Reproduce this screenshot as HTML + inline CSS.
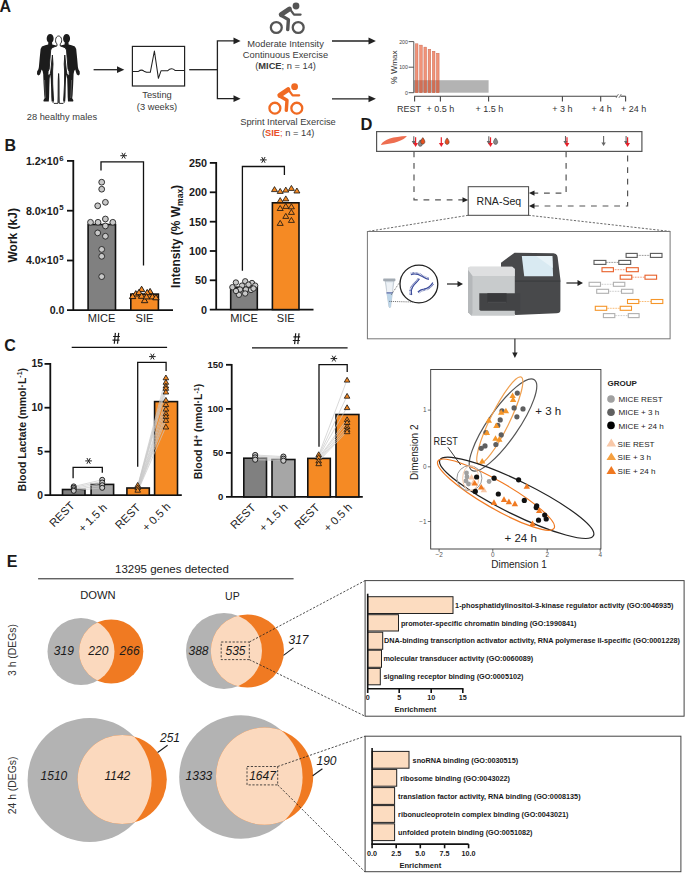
<!DOCTYPE html>
<html><head><meta charset="utf-8">
<style>
html,body{margin:0;padding:0;background:#fff;}
body{width:685px;height:873px;overflow:hidden;}
svg{display:block;font-family:"Liberation Sans",sans-serif;}
.pl{font-weight:bold;font-size:16px;fill:#1a1a1a;}
.ta{font-size:9.3px;fill:#3a3a3a;}
.bt{font-weight:bold;fill:#1a1a1a;}
</style></head><body>
<svg width="685" height="873" viewBox="0 0 685 873">
<defs>
<marker id="ah" viewBox="0 0 10 10" refX="9" refY="5" markerWidth="6" markerHeight="6" orient="auto" markerUnits="userSpaceOnUse"><path d="M0,0 L10,5 L0,10 z" fill="#222"/></marker>
<g id="ast"><path d="M-3.3,0 L3.3,0 M-1.7,-2.9 L1.7,2.9 M1.7,-2.9 L-1.7,2.9" stroke="#222" stroke-width="1.0" fill="none"/></g>
<g id="hash"><path d="M-1.9,5.4 L-0.8,-5.5 M1.3,5.4 L2.5,-5.5 M-3.1,-1.9 L3.7,-1.9 M-3.7,1.8 L3.3,1.8" stroke="#1a1a1a" stroke-width="1.2" fill="none"/></g>
<path id="man" d="M0,38 L1.2,45 L1.8,60 L2.3,65.8 L6.6,66.6 L6.8,67.6 L2,67.8 L0.6,67 L0,58 L-0.6,67 L-2,67.8 L-6.8,67.6 L-6.6,66.6 L-2.3,65.8 L-1.8,60 L-1.2,45 L0,38 Z"/>
</defs>

<!-- ============ PANEL A ============ -->
<text class="pl" x="-0.5" y="11.6">A</text>
<g id="people">
  <g fill="#1c1c1c">
    <path transform="translate(50.2,34)" d="M1.9,8.2 L2.0,10.4 L5.0,11.2 L8.3,12.4 L9.6,15.0 L10.5,24.0 L11.3,33.0 L11.8,35.3 L13.1,37.4 L13.2,40.3 L11.8,41.6 L10.2,40.6 L9.4,38.2 L8.6,35.5 L7.6,37.0 L7.0,40.0 L6.6,50.0 L6.0,61.0 L5.6,64.3 L6.8,66.3 L6.5,67.6 L1.4,67.6 L1.1,63.0 L0.9,54.0 L0.6,45.0 L0.0,40.5 L-0.6,45.0 L-0.9,54.0 L-1.1,63.0 L-1.4,67.6 L-6.5,67.6 L-6.8,66.3 L-5.6,64.3 L-6.0,61.0 L-6.6,50.0 L-7.0,40.0 L-7.6,37.0 L-8.6,35.5 L-9.4,38.2 L-10.2,40.6 L-11.8,41.6 L-13.2,40.3 L-13.1,37.4 L-11.8,35.3 L-11.3,33.0 L-10.5,24.0 L-9.6,15.0 L-8.3,12.4 L-5.0,11.2 L-2.0,10.4 L-1.9,8.2 C-4.5,6.7 -3.9,0.0 0,0 C3.9,0.0 4.5,6.7 1.9,8.2 Z"/>
    <path transform="translate(66.6,34)" d="M1.9,8.2 L2.0,10.4 L5.0,11.2 L8.3,12.4 L9.6,15.0 L10.5,24.0 L11.3,33.0 L11.8,35.3 L13.1,37.4 L13.2,40.3 L11.8,41.6 L10.2,40.6 L9.4,38.2 L8.6,35.5 L7.6,37.0 L7.0,40.0 L6.6,50.0 L6.0,61.0 L5.6,64.3 L6.8,66.3 L6.5,67.6 L1.4,67.6 L1.1,63.0 L0.9,54.0 L0.6,45.0 L0.0,40.5 L-0.6,45.0 L-0.9,54.0 L-1.1,63.0 L-1.4,67.6 L-6.5,67.6 L-6.8,66.3 L-5.6,64.3 L-6.0,61.0 L-6.6,50.0 L-7.0,40.0 L-7.6,37.0 L-8.6,35.5 L-9.4,38.2 L-10.2,40.6 L-11.8,41.6 L-13.2,40.3 L-13.1,37.4 L-11.8,35.3 L-11.3,33.0 L-10.5,24.0 L-9.6,15.0 L-8.3,12.4 L-5.0,11.2 L-2.0,10.4 L-1.9,8.2 C-4.5,6.7 -3.9,0.0 0,0 C3.9,0.0 4.5,6.7 1.9,8.2 Z"/>
  </g>
  <path transform="translate(58.6,36)" fill="#fff" stroke="#1c1c1c" stroke-width="0.9" stroke-linejoin="round" d="M1.6,7.9 L1.7,10.0 L4.5,10.9 L6.6,11.8 L7.9,14.0 L8.7,24.0 L9.4,33.0 L10.5,35.5 L10.7,38.5 L9.4,39.6 L8.3,37.6 L7.7,34.0 L6.7,24.0 L6.2,19.0 L5.6,28.0 L6.0,35.0 L5.9,48.0 L5.3,60.0 L5.0,64.0 L5.6,66.4 L4.6,67.4 L0.7,67.4 L0.5,60.0 L0.4,45.0 L0.0,37.5 L-0.4,45.0 L-0.5,60.0 L-0.7,67.4 L-4.6,67.4 L-5.6,66.4 L-5.0,64.0 L-5.3,60.0 L-5.9,48.0 L-6.0,35.0 L-5.6,28.0 L-6.2,19.0 L-6.7,24.0 L-7.7,34.0 L-8.3,37.6 L-9.4,39.6 L-10.7,38.5 L-10.5,35.5 L-9.4,33.0 L-8.7,24.0 L-7.9,14.0 L-6.6,11.8 L-4.5,10.9 L-1.7,10.0 L-1.6,7.9 C-4.0,6.4 -3.4,0.0 0,0 C3.4,0.0 4.0,6.4 1.6,7.9 Z"/>
  <path d="M58.6,74 L58.6,103" stroke="#1c1c1c" stroke-width="0.7"/>
  <g stroke="#ddd" stroke-width="0.5" opacity="0.6"><path d="M44.6,80 L45.4,98 M71.6,80 L70.8,98"/></g>
</g>
<text class="ta" x="61.9" y="120" text-anchor="middle">28 healthy males</text>
<!-- arrow to testing -->
<line x1="93.6" y1="69.7" x2="118" y2="69.7" stroke="#222" stroke-width="1.3"/>
<path d="M117,66.3 L124.3,69.7 L117,73.1 Z" fill="#222"/>
<!-- ECG box -->
<rect x="132.4" y="46.4" width="52.2" height="39.6" fill="#fff" stroke="#222" stroke-width="1.2"/>
<path d="M132.4,71.4 L138.5,71.4 Q141.5,69 144,71.2 L146.5,72.3 L150.3,72.3 L154.4,51 L158.4,78.3 L161,70.8 L167.5,70.8 Q171.5,67 175,70.4 L184.6,70.4" fill="none" stroke="#222" stroke-width="1.05" stroke-linejoin="round"/>
<text class="ta" x="157" y="98.4" text-anchor="middle">Testing</text>
<text class="ta" x="157" y="109.8" text-anchor="middle">(3 weeks)</text>
<!-- branch lines -->
<line x1="189.2" y1="69.7" x2="217.4" y2="69.7" stroke="#222" stroke-width="1.3"/>
<polyline points="234,40.9 217.4,40.9 217.4,98.7 234,98.7" fill="none" stroke="#222" stroke-width="1.3"/>
<path d="M233.5,37.5 L240.6,40.9 L233.5,44.3 Z" fill="#222"/>
<path d="M233.5,95.3 L240.6,98.7 L233.5,102.1 Z" fill="#222"/>
<!-- bikes -->
<g id="bike1" fill="none" stroke="#555" stroke-linecap="round" stroke-linejoin="round">
  <circle cx="276.3" cy="27.5" r="5.45" stroke-width="2.3"/>
  <circle cx="298.2" cy="27.5" r="5.45" stroke-width="2.3"/>
  <circle cx="296" cy="6" r="3.4" fill="#555" stroke="none"/>
  <line x1="281.2" y1="14.6" x2="289.4" y2="9" stroke-width="4.9"/>
  <polyline points="281.5,15.6 288.4,19.6 287.7,29.6" stroke-width="3.4"/>
  <polyline points="290.3,9.6 294,14.6 300.6,14.6" stroke-width="2.2"/>
</g>
<g transform="translate(-1.4,80.7)" fill="none" stroke="#f06a22" stroke-linecap="round" stroke-linejoin="round">
  <circle cx="276.3" cy="27.5" r="5.45" stroke-width="2.3"/>
  <circle cx="298.2" cy="27.5" r="5.45" stroke-width="2.3"/>
  <circle cx="296" cy="6" r="3.4" fill="#f06a22" stroke="none"/>
  <line x1="281.2" y1="14.6" x2="289.4" y2="9" stroke-width="4.9"/>
  <polyline points="281.5,15.6 288.4,19.6 287.7,29.6" stroke-width="3.4"/>
  <polyline points="290.3,9.6 294,14.6 300.6,14.6" stroke-width="2.2"/>
</g>
<text class="ta" x="285.6" y="46.6" text-anchor="middle">Moderate Intensity</text>
<text class="ta" x="285.5" y="57.8" text-anchor="middle">Continuous Exercise</text>
<text class="ta" x="285.6" y="69" text-anchor="middle">(<tspan font-weight="bold">MICE</tspan>; n = 14)</text>
<text class="ta" x="288" y="125" text-anchor="middle">Sprint Interval Exercise</text>
<text class="ta" x="288.2" y="135.6" text-anchor="middle">(<tspan font-weight="bold" fill="#e8502a">SIE</tspan><tspan fill="#e8502a">;</tspan> n = 14)</text>
<!-- arrows to chart -->
<line x1="332" y1="41" x2="369" y2="41" stroke="#222" stroke-width="1.3"/>
<path d="M368.5,37.6 L375.9,41 L368.5,44.4 Z" fill="#222"/>
<line x1="332" y1="98.8" x2="369" y2="98.8" stroke="#222" stroke-width="1.3"/>
<path d="M368.5,95.4 L375.9,98.8 L368.5,102.2 Z" fill="#222"/>
<!-- mini chart -->
<g id="minichart">
  <rect x="413.8" y="80.2" width="74.8" height="12.5" fill="#b3b3b3"/>
  <g fill="#f08a6c" stroke="#c4614a" stroke-width="0.4" fill-opacity="0.92">
    <rect x="415.3" y="43.8" width="2.7" height="48.9"/>
    <rect x="419.6" y="45.1" width="2.7" height="47.6"/>
    <rect x="423.9" y="47.1" width="2.7" height="45.6"/>
    <rect x="428.1" y="49.2" width="2.7" height="43.5"/>
    <rect x="432.3" y="51.2" width="2.7" height="41.5"/>
    <rect x="436.4" y="53.2" width="2.7" height="39.5"/>
  </g>
  <g fill="#c8664c" opacity="0.75">
    <rect x="415.3" y="80.2" width="2.7" height="12.5"/>
    <rect x="419.6" y="80.2" width="2.7" height="12.5"/>
    <rect x="423.9" y="80.2" width="2.7" height="12.5"/>
    <rect x="428.1" y="80.2" width="2.7" height="12.5"/>
    <rect x="432.3" y="80.2" width="2.7" height="12.5"/>
    <rect x="436.4" y="80.2" width="2.7" height="12.5"/>
  </g>
  <polyline points="408.6,41.6 413.8,41.6 413.8,92.7 408.6,92.7" fill="none" stroke="#444" stroke-width="0.9"/>
  <line x1="408.6" y1="67.2" x2="413.8" y2="67.2" stroke="#444" stroke-width="0.9"/>
  <g font-size="5.2" fill="#444" text-anchor="end"><text x="407.8" y="43.5">200</text><text x="407.8" y="69.1">100</text><text x="407.8" y="94.6">0</text></g>
  <text transform="translate(397.2,67.4) rotate(-90)" font-size="8.8" fill="#333" text-anchor="middle">% W<tspan font-size="8.1">max</tspan></text>
  <line x1="414.2" y1="96.2" x2="617" y2="96.2" stroke="#444" stroke-width="1.1"/>
  <line x1="620.5" y1="96.2" x2="625.6" y2="96.2" stroke="#444" stroke-width="1.1"/>
  <path d="M616,98 L618.5,94 M618.8,98 L621.3,94" stroke="#555" stroke-width="0.7"/>
  <g stroke="#444" stroke-width="1.1"><line x1="414.6" y1="96.2" x2="414.6" y2="101.6"/><line x1="440.4" y1="96.2" x2="440.4" y2="101.6"/><line x1="488.6" y1="96.2" x2="488.6" y2="101.6"/><line x1="562.4" y1="96.2" x2="562.4" y2="101.6"/><line x1="600.7" y1="96.2" x2="600.7" y2="101.6"/><line x1="625.6" y1="96.2" x2="625.6" y2="101.6"/></g>
  <g font-size="9" fill="#333"><text x="397" y="111.5">REST</text><text x="426.5" y="111.5">+ 0.5 h</text><text x="475.5" y="111.5">+ 1.5 h</text><text x="552.3" y="111.5">+ 3 h</text><text x="591.5" y="111.5">+ 4 h</text><text x="621" y="111.5">+ 24 h</text></g>
</g>

<!-- ============ PANEL B ============ -->
<text class="pl" x="4.5" y="150.6">B</text>
<g id="work">
  <g stroke="#111" stroke-width="1.8" fill="none">
    <line x1="73.3" y1="160" x2="73.3" y2="310.3"/>
    <line x1="67" y1="160.9" x2="73.3" y2="160.9"/>
    <line x1="67" y1="210.7" x2="73.3" y2="210.7"/>
    <line x1="67" y1="260.5" x2="73.3" y2="260.5"/>
    <line x1="67" y1="310.2" x2="173" y2="310.2"/>
  </g>
  <g class="bt" font-size="10.6" text-anchor="end">
    <text x="58.6" y="164.8">1.2×10</text><text x="58.6" y="214.6">8.0×10</text><text x="58.6" y="264.4">4.0×10</text><text x="64.4" y="314.2">0.0</text>
  </g>
  <g class="bt" font-size="7.8"><text x="59.3" y="160.6">6</text><text x="59.3" y="210.4">5</text><text x="59.3" y="260.2">5</text></g>
  <text class="bt" font-size="12" transform="translate(16.8,235.3) rotate(-90)" text-anchor="middle">Work (kJ)</text>
  <rect x="88.1" y="224.5" width="27.4" height="85.7" fill="#808080" stroke="#111" stroke-width="1.6"/>
  <rect x="130.8" y="294.1" width="27.6" height="16.1" fill="#f58a24" stroke="#111" stroke-width="1.6"/>
  <polyline points="101,170.4 101,161.8 143.5,161.8 143.5,265.5" fill="none" stroke="#111" stroke-width="1.3"/>
  <use href="#ast" x="123.6" y="155.7"/>
  <g fill="#c8c8c8" stroke="#222" stroke-width="0.9">
    <circle cx="101.7" cy="182.2" r="2.9"/><circle cx="101.7" cy="189.2" r="2.9"/><circle cx="105.4" cy="202.3" r="2.9"/><circle cx="97.7" cy="205.8" r="2.9"/><circle cx="105.4" cy="219" r="2.9"/><circle cx="90.5" cy="222.3" r="2.9"/><circle cx="98" cy="222.3" r="2.9"/><circle cx="112.8" cy="222.3" r="2.9"/><circle cx="105.4" cy="226" r="2.9"/><circle cx="97.7" cy="232.9" r="2.9"/><circle cx="105.4" cy="236.2" r="2.9"/><circle cx="101.7" cy="249.4" r="2.9"/><circle cx="101.7" cy="256.3" r="2.9"/><circle cx="101.7" cy="276.6" r="2.9"/>
  </g>
  <g fill="#f58a24" stroke="#111" stroke-width="0.9" stroke-linejoin="round">
    <path d="M138.4,291.6 l3.2,-5.4 l3.2,5.4 z"/><path d="M146.9,293.8 l3.2,-5.4 l3.2,5.4 z"/><path d="M144.0,294.8 l3.2,-5.4 l3.2,5.4 z"/><path d="M132.6,296.0 l3.2,-5.4 l3.2,5.4 z"/><path d="M135.8,294.7 l3.2,-5.4 l3.2,5.4 z"/><path d="M138.4,298.3 l3.2,-5.4 l3.2,5.4 z"/><path d="M149.2,298.9 l3.2,-5.4 l3.2,5.4 z"/><path d="M129.4,298.6 l3.2,-5.4 l3.2,5.4 z"/><path d="M152.7,299.8 l3.2,-5.4 l3.2,5.4 z"/><path d="M141.4,302.7 l3.2,-5.4 l3.2,5.4 z"/><path d="M143.3,298.9 l3.2,-5.4 l3.2,5.4 z"/>
  </g>
  <g font-size="11.1" fill="#222" text-anchor="middle"><text x="101.6" y="322.1">MICE</text><text x="144.5" y="322">SIE</text></g>
</g>
<g id="intensity">
  <g stroke="#111" stroke-width="1.8" fill="none">
    <line x1="216.2" y1="162" x2="216.2" y2="309.6"/>
    <line x1="209.8" y1="162.9" x2="216.2" y2="162.9"/>
    <line x1="209.8" y1="192.3" x2="216.2" y2="192.3"/>
    <line x1="209.8" y1="221.7" x2="216.2" y2="221.7"/>
    <line x1="209.8" y1="251" x2="216.2" y2="251"/>
    <line x1="209.8" y1="280.3" x2="216.2" y2="280.3"/>
    <line x1="209.8" y1="309.6" x2="313.5" y2="309.6"/>
  </g>
  <g class="bt" font-size="10.8" text-anchor="end">
    <text x="207" y="166.8">250</text><text x="207" y="196.2">200</text><text x="207" y="225.6">150</text><text x="207" y="254.9">100</text><text x="207" y="284.2">50</text><text x="207" y="313.5">0</text>
  </g>
  <text class="bt" font-size="12" transform="translate(179.6,236.4) rotate(-90)" text-anchor="middle">Intensity (% W<tspan font-size="8.5" dy="3">max</tspan><tspan dy="-3">)</tspan></text>
  <rect x="230.7" y="287.2" width="26.6" height="22.4" fill="#808080" stroke="#111" stroke-width="1.6"/>
  <rect x="272.4" y="202.8" width="26.6" height="106.8" fill="#f58a24" stroke="#111" stroke-width="1.6"/>
  <polyline points="242.4,270.8 242.4,166.5 284.4,166.5 284.4,175" fill="none" stroke="#111" stroke-width="1.3"/>
  <use href="#ast" x="263.4" y="159.9"/>
  <g fill="#c8c8c8" stroke="#222" stroke-width="0.9">
    <circle cx="235.9" cy="282.5" r="2.7"/><circle cx="245.2" cy="281.3" r="2.7"/><circle cx="252" cy="283" r="2.7"/><circle cx="255.2" cy="285.6" r="2.7"/><circle cx="232.4" cy="287.2" r="2.7"/><circle cx="242" cy="285.6" r="2.7"/><circle cx="248.5" cy="284.6" r="2.7"/><circle cx="240" cy="289.5" r="2.7"/><circle cx="245.9" cy="289.5" r="2.7"/><circle cx="251" cy="290" r="2.7"/><circle cx="238.9" cy="294.8" r="2.7"/><circle cx="245.2" cy="293.5" r="2.7"/><circle cx="236" cy="291" r="2.7"/><circle cx="253.5" cy="288.5" r="2.7"/>
  </g>
  <g fill="#f58a24" stroke="#111" stroke-width="0.8" stroke-linejoin="round">
    <path d="M271.5,191.6 l3,-5 l3,5 z"/><path d="M277.2,193.4 l3,-5 l3,5 z"/><path d="M282.8,192.1 l3,-5 l3,5 z"/><path d="M288.4,190.4 l3,-5 l3,5 z"/><path d="M293.9,193 l3,-5 l3,5 z"/><path d="M277.2,202.6 l3,-5 l3,5 z"/><path d="M282.8,200.9 l3,-5 l3,5 z"/><path d="M277.2,210.5 l3,-5 l3,5 z"/><path d="M282.8,208.4 l3,-5 l3,5 z"/><path d="M288.4,208.8 l3,-5 l3,5 z"/><path d="M288.4,214.4 l3,-5 l3,5 z"/><path d="M282.8,218.4 l3,-5 l3,5 z"/><path d="M288.4,222.4 l3,-5 l3,5 z"/><path d="M277.2,225.4 l3,-5 l3,5 z"/>
  </g>
  <g font-size="11.1" fill="#222" text-anchor="middle"><text x="244" y="321.9">MICE</text><text x="285.7" y="321.8">SIE</text></g>
</g>

<!-- ============ PANEL C ============ -->
<text class="pl" x="4.2" y="351.2">C</text>
<g id="lactate">
  <line x1="71.7" y1="347.4" x2="167.1" y2="347.4" stroke="#111" stroke-width="1.4"/>
  <use href="#hash" x="116.2" y="338.4"/>
  <g stroke="#111" stroke-width="1.8" fill="none">
    <line x1="50.3" y1="363" x2="50.3" y2="495.3"/>
    <line x1="44.5" y1="363.9" x2="50.3" y2="363.9"/>
    <line x1="44.5" y1="407.7" x2="50.3" y2="407.7"/>
    <line x1="44.5" y1="451.6" x2="50.3" y2="451.6"/>
    <line x1="44.5" y1="495.2" x2="181.8" y2="495.2"/>
  </g>
  <g class="bt" font-size="10.3" text-anchor="end"><text x="43" y="367.4">15</text><text x="43" y="411.2">10</text><text x="43" y="455.1">5</text><text x="43" y="498.7">0</text></g>
  <text class="bt" font-size="10.5" transform="translate(25.8,429.7) rotate(-90)" text-anchor="middle">Blood Lactate (mmol·L<tspan font-size="7" dy="-3.5">-1</tspan><tspan dy="3.5">)</tspan></text>
  <rect x="62.5" y="489.5" width="22.5" height="5.7" fill="#808080" stroke="#111" stroke-width="1.6"/>
  <rect x="91.1" y="484.4" width="22.5" height="10.8" fill="#a6a6a6" stroke="#111" stroke-width="1.6"/>
  <rect x="126.9" y="488" width="22.4" height="7.2" fill="#f58a24" stroke="#111" stroke-width="1.6"/>
  <rect x="154.6" y="401.6" width="22.9" height="93.6" fill="#f58a24" stroke="#111" stroke-width="1.6"/>
  <polyline points="137.7,466.8 137.7,362.3 166.1,362.3 166.1,370.9" fill="none" stroke="#111" stroke-width="1.3"/>
  <use href="#ast" x="152.4" y="356.6"/>
  <polyline points="73.1,478.2 73.1,467.4 102.3,467.4 102.3,472.7" fill="none" stroke="#111" stroke-width="1.3"/>
  <use href="#ast" x="88.6" y="460.9"/>
  <g stroke="#c8c8c8" stroke-width="0.7">
    <line x1="73.7" y1="486.5" x2="102.2" y2="479.8"/><line x1="73.7" y1="487.5" x2="102.2" y2="481.5"/><line x1="73.7" y1="488.5" x2="102.2" y2="483.5"/><line x1="73.7" y1="489.5" x2="102.2" y2="485.5"/><line x1="73.7" y1="490.5" x2="102.2" y2="487.8"/>
  </g>
  <g stroke="#c8c8c8" stroke-width="0.7">
    <line x1="137.7" y1="486" x2="165.9" y2="377.4"/><line x1="137.7" y1="486.5" x2="165.9" y2="381.9"/><line x1="137.7" y1="487" x2="165.9" y2="385.6"/><line x1="137.7" y1="487.5" x2="165.9" y2="387.9"/><line x1="137.7" y1="488" x2="165.9" y2="391.6"/><line x1="137.7" y1="488.5" x2="165.9" y2="399.8"/><line x1="137.7" y1="489" x2="165.9" y2="404.2"/><line x1="137.7" y1="489.5" x2="165.9" y2="408.7"/><line x1="137.7" y1="490" x2="165.9" y2="413.2"/><line x1="137.7" y1="490.5" x2="165.9" y2="416.2"/><line x1="137.7" y1="491" x2="165.9" y2="419.9"/><line x1="137.7" y1="491.5" x2="165.9" y2="426.6"/>
  </g>
  <g fill="#c8c8c8" stroke="#111" stroke-width="0.9">
    <circle cx="73.7" cy="486.4" r="2.5"/><circle cx="73.7" cy="487.8" r="2.5"/><circle cx="73.7" cy="489.4" r="2.5"/><circle cx="73.7" cy="490.8" r="2.5"/><circle cx="102.2" cy="479.8" r="2.5"/><circle cx="102.2" cy="482.5" r="2.5"/><circle cx="102.2" cy="485.2" r="2.5"/><circle cx="102.2" cy="487.8" r="2.5"/>
  </g>
  <g fill="#f58a24" stroke="#111" stroke-width="0.8" stroke-linejoin="round">
    <path d="M134.9,487.2 l2.8,-4.8 l2.8,4.8 z"/><path d="M134.9,489.7 l2.8,-4.8 l2.8,4.8 z"/><path d="M134.9,492.2 l2.8,-4.8 l2.8,4.8 z"/><path d="M163.1,379.8 l2.8,-4.8 l2.8,4.8 z"/><path d="M163.1,384.3 l2.8,-4.8 l2.8,4.8 z"/><path d="M163.1,388.0 l2.8,-4.8 l2.8,4.8 z"/><path d="M163.1,390.3 l2.8,-4.8 l2.8,4.8 z"/><path d="M163.1,394.0 l2.8,-4.8 l2.8,4.8 z"/><path d="M163.1,402.2 l2.8,-4.8 l2.8,4.8 z"/><path d="M163.1,406.6 l2.8,-4.8 l2.8,4.8 z"/><path d="M163.1,411.1 l2.8,-4.8 l2.8,4.8 z"/><path d="M163.1,415.6 l2.8,-4.8 l2.8,4.8 z"/><path d="M163.1,418.6 l2.8,-4.8 l2.8,4.8 z"/><path d="M163.1,422.3 l2.8,-4.8 l2.8,4.8 z"/><path d="M163.1,429.0 l2.8,-4.8 l2.8,4.8 z"/>
  </g>
  <g font-size="11.3" fill="#222" text-anchor="end">
    <text transform="translate(75.3,506.4) rotate(-45)">REST</text>
    <text transform="translate(107.6,508.3) rotate(-45)">+ 1.5 h</text>
    <text transform="translate(141.1,508.4) rotate(-45)">REST</text>
    <text transform="translate(171.3,507.4) rotate(-45)">+ 0.5 h</text>
  </g>
</g>
<g id="hplus">
  <line x1="252" y1="347.9" x2="347.6" y2="347.9" stroke="#111" stroke-width="1.4"/>
  <use href="#hash" x="296.5" y="338.7"/>
  <g stroke="#111" stroke-width="1.8" fill="none">
    <line x1="231.7" y1="364" x2="231.7" y2="496.9"/>
    <line x1="226" y1="364.8" x2="231.7" y2="364.8"/>
    <line x1="226" y1="408.9" x2="231.7" y2="408.9"/>
    <line x1="226" y1="452.9" x2="231.7" y2="452.9"/>
    <line x1="226" y1="496.9" x2="362.8" y2="496.9"/>
  </g>
  <g class="bt" font-size="9.5" text-anchor="end"><text x="223.4" y="368.2">150</text><text x="223.4" y="412.3">100</text><text x="223.4" y="456.3">50</text><text x="223.4" y="500.3">0</text></g>
  <text class="bt" font-size="10.5" transform="translate(202,431.5) rotate(-90)" text-anchor="middle">Blood H<tspan font-size="7" dy="-3.5">+</tspan><tspan dy="3.5"> (nmol·L</tspan><tspan font-size="7" dy="-3.5">-1</tspan><tspan dy="3.5">)</tspan></text>
  <rect x="243.8" y="458.2" width="22.7" height="38.7" fill="#808080" stroke="#111" stroke-width="1.6"/>
  <rect x="272" y="459.5" width="22.9" height="37.4" fill="#a6a6a6" stroke="#111" stroke-width="1.6"/>
  <rect x="307.8" y="458.4" width="22.5" height="38.5" fill="#f58a24" stroke="#111" stroke-width="1.6"/>
  <rect x="336" y="414.5" width="22.9" height="82.4" fill="#f58a24" stroke="#111" stroke-width="1.6"/>
  <polyline points="319,446.8 319,364.7 347.2,364.7 347.2,371.9" fill="none" stroke="#111" stroke-width="1.3"/>
  <use href="#ast" x="333.9" y="358.6"/>
  <g stroke="#c8c8c8" stroke-width="0.7">
    <line x1="255.2" y1="455" x2="283.4" y2="456.6"/><line x1="255.2" y1="456.2" x2="283.4" y2="457.6"/><line x1="255.2" y1="457.4" x2="283.4" y2="458.7"/><line x1="255.2" y1="458.6" x2="283.4" y2="459.7"/><line x1="255.2" y1="459.7" x2="283.4" y2="460.7"/>
    <line x1="318.7" y1="455.0" x2="347.1" y2="379.7"/><line x1="318.7" y1="455.9" x2="347.1" y2="395.8"/><line x1="318.7" y1="456.8" x2="347.1" y2="407.2"/><line x1="318.7" y1="457.7" x2="347.1" y2="419.2"/><line x1="318.7" y1="458.6" x2="347.1" y2="422.1"/><line x1="318.7" y1="459.5" x2="347.1" y2="426.1"/><line x1="318.7" y1="460.4" x2="347.1" y2="429"/><line x1="318.7" y1="461.3" x2="347.1" y2="431.3"/>
  </g>
  <g fill="#c8c8c8" stroke="#111" stroke-width="0.9">
    <circle cx="255.2" cy="455" r="2.6"/><circle cx="255.2" cy="457.4" r="2.6"/><circle cx="255.2" cy="459.7" r="2.6"/><circle cx="283.4" cy="456.6" r="2.6"/><circle cx="283.4" cy="458.7" r="2.6"/><circle cx="283.4" cy="460.7" r="2.6"/>
  </g>
  <g fill="#f58a24" stroke="#111" stroke-width="0.8" stroke-linejoin="round">
    <path d="M315.9,456.6 l2.8,-4.8 l2.8,4.8 z"/><path d="M315.9,459.4 l2.8,-4.8 l2.8,4.8 z"/><path d="M315.9,462.9 l2.8,-4.8 l2.8,4.8 z"/><path d="M315.9,465.7 l2.8,-4.8 l2.8,4.8 z"/><path d="M344.3,382.1 l2.8,-4.8 l2.8,4.8 z"/><path d="M344.3,398.2 l2.8,-4.8 l2.8,4.8 z"/><path d="M344.3,409.6 l2.8,-4.8 l2.8,4.8 z"/><path d="M344.3,421.6 l2.8,-4.8 l2.8,4.8 z"/><path d="M344.3,424.5 l2.8,-4.8 l2.8,4.8 z"/><path d="M344.3,428.5 l2.8,-4.8 l2.8,4.8 z"/><path d="M344.3,431.4 l2.8,-4.8 l2.8,4.8 z"/><path d="M344.3,433.7 l2.8,-4.8 l2.8,4.8 z"/>
  </g>
  <g font-size="11.3" fill="#222" text-anchor="end">
    <text transform="translate(256.3,508.4) rotate(-45)">REST</text>
    <text transform="translate(288.4,507.9) rotate(-45)">+ 1.5 h</text>
    <text transform="translate(320.3,508.4) rotate(-45)">REST</text>
    <text transform="translate(352.8,507.9) rotate(-45)">+ 0.5 h</text>
  </g>
</g>

<!-- ============ PANEL D ============ -->
<text class="pl" x="360.4" y="130.2" style="font-size:16.5px">D</text>
<g id="paneld">
  <rect x="376.6" y="131.6" width="265.3" height="19.8" fill="#fff" stroke="#555" stroke-width="1.2"/>
  <path d="M380.8,144.9 C384,139.3 393,136.8 406.9,136.1 C404,140.3 395,143.8 380.8,144.9 Z" fill="#ee6e50"/>
  <!-- arrows gray -->
  <g stroke="#666" stroke-width="1.1" fill="#666">
    <line x1="413.8" y1="136.2" x2="413.8" y2="143.5"/><line x1="488.8" y1="136.2" x2="488.8" y2="143.5"/><line x1="565.5" y1="136" x2="565.5" y2="143.5"/><line x1="603.6" y1="136" x2="603.6" y2="143"/><line x1="626.1" y1="136" x2="626.1" y2="143.5"/>
    <path d="M601.4,142.5 L603.6,146 L605.8,142.5 Z" stroke="none"/><path d="M411.7,141 L413.8,144.6 L415.9,141 Z" stroke="none"/><path d="M486.7,141 L488.8,144.6 L490.9,141 Z" stroke="none"/><path d="M563.4,141 L565.5,144.6 L567.6,141 Z" stroke="none"/><path d="M624,141 L626.1,144.6 L628.2,141 Z" stroke="none"/>
  </g>
  <g stroke="#e8202a" stroke-width="1.2" fill="#e8202a">
    <line x1="415.6" y1="137.3" x2="415.6" y2="143.5"/><path d="M413.2,143 L415.6,147 L418,143 Z" stroke="none"/>
    <line x1="441.3" y1="137.3" x2="441.3" y2="143.5"/><path d="M438.9,143 L441.3,147 L443.7,143 Z" stroke="none"/>
    <line x1="490.5" y1="137.3" x2="490.5" y2="143.5"/><path d="M488.1,143 L490.5,147 L492.9,143 Z" stroke="none"/>
    <line x1="567" y1="137.3" x2="567" y2="143.5"/><path d="M564.6,143 L567,147 L569.4,143 Z" stroke="none"/>
    <line x1="627.6" y1="137.3" x2="627.6" y2="143.5"/><path d="M625.2,143 L627.6,147 L630,143 Z" stroke="none"/>
  </g>
  <!-- drops -->
  <g stroke="#333" stroke-width="0.5">
    <path d="M420.3,139.8 C421.8,141.8 422.4,143 422.4,144 C422.4,145.4 421.4,146.3 420.3,146.3 C419.2,146.3 418.2,145.4 418.2,144 C418.2,143 418.8,141.8 420.3,139.8 Z" fill="#888"/>
    <path d="M422.8,137.6 C424.3,139.6 424.9,140.8 424.9,141.8 C424.9,143.2 423.9,144.1 422.8,144.1 C421.7,144.1 420.7,143.2 420.7,141.8 C420.7,140.8 421.3,139.6 422.8,137.6 Z" fill="#e8501e"/>
    <path d="M447.1,137.9 C448.6,139.9 449.2,141.1 449.2,142.1 C449.2,143.5 448.2,144.4 447.1,144.4 C446,144.4 445,143.5 445,142.1 C445,141.1 445.6,139.9 447.1,137.9 Z" fill="#e8501e"/>
    <path d="M495.6,137.9 C497.1,139.9 497.7,141.1 497.7,142.1 C497.7,143.5 496.7,144.4 495.6,144.4 C494.5,144.4 493.5,143.5 493.5,142.1 C493.5,141.1 494.1,139.9 495.6,137.9 Z" fill="#888"/>
  </g>
  <!-- dashed connectors -->
  <g fill="none" stroke="#555" stroke-width="1.2" stroke-dasharray="5.8,5.8">
    <polyline points="414,151.4 414,199.9 463,199.9"/>
    <polyline points="566.1,151.4 566.1,193.1 534,193.1"/>
    <polyline points="627.6,155.6 627.6,206 534,206"/>
  </g>
  <path d="M462.5,197.2 L468.2,199.9 L462.5,202.6 Z" fill="#222"/>
  <path d="M534.5,190.4 L528.9,193.1 L534.5,195.8 Z" fill="#222"/>
  <path d="M534.5,203.3 L528.9,206 L534.5,208.7 Z" fill="#222"/>
  <rect x="468.2" y="186.7" width="60.4" height="28.6" fill="#fff" stroke="#444" stroke-width="1"/>
  <text x="476.6" y="205.1" font-size="11.2" fill="#222" textLength="44.6" lengthAdjust="spacingAndGlyphs">RNA-Seq</text>
  <g fill="none" stroke="#444" stroke-width="0.8" stroke-dasharray="2.2,1.6">
    <line x1="468.2" y1="215.3" x2="367.4" y2="231.5"/>
    <line x1="528.6" y1="215.3" x2="670.1" y2="231.4"/>
  </g>
  <rect x="367.4" y="231.5" width="302.7" height="107.3" fill="#fff" stroke="#777" stroke-width="1"/>
  <!-- tube -->
  <path d="M385.2,281 L393.9,281 L390.6,307 Q389.8,308.6 389,307 Z" fill="#e3eaf0" stroke="#9aa6b2" stroke-width="0.5"/>
  <path d="M386.6,293.2 L392.5,293.2 L390.6,307 Q389.8,308.6 389,307 Z" fill="#bcd5e8"/>
  <rect x="387" y="283" width="5.2" height="9" fill="#f2f5f8" opacity="0.7"/>
  <rect x="383.2" y="278.4" width="12.2" height="2.8" rx="0.6" fill="#a3abb3"/>
  <line x1="386.5" y1="292.9" x2="392.6" y2="292.9" stroke="#4a5aa0" stroke-width="1.1"/>
  <g stroke="#333" stroke-width="0.7" stroke-dasharray="1,0.9" fill="none"><line x1="391.3" y1="294.7" x2="400.8" y2="280.6"/><line x1="389.3" y1="301.4" x2="412.8" y2="302"/></g>
  <circle cx="418.9" cy="284" r="18.9" fill="#fff" stroke="#222" stroke-width="1.3"/>
  <g fill="none" stroke="#3a4a9a">
    <path d="M410.9,274.7 C414,273.5 418,274 421.9,276.4 C424.5,278 426.5,279.2 428.8,279.4" transform="translate(0,-0.9)" stroke-width="2.3" stroke-dasharray="0.55,0.75"/>
    <path d="M419.4,278.7 C418,281 416,282.6 414,285 C412,287.5 410.5,290 411.7,295" transform="translate(-0.9,0)" stroke-width="2.3" stroke-dasharray="0.55,0.75"/>
    <path d="M417.9,291.8 C420,290 421.5,289.5 424,289 C427,288.3 430.5,287 432.8,282.4" transform="translate(0.5,0.7)" stroke-width="2.3" stroke-dasharray="0.55,0.75"/>
    <path d="M410.9,274.7 C414,273.5 418,274 421.9,276.4 C424.5,278 426.5,279.2 428.8,279.4" stroke-width="1.1"/>
    <path d="M419.4,278.7 C418,281 416,282.6 414,285 C412,287.5 410.5,290 411.7,295" stroke-width="1.1"/>
    <path d="M417.9,291.8 C420,290 421.5,289.5 424,289 C427,288.3 430.5,287 432.8,282.4" stroke-width="1.1"/>
  </g>
  <line x1="447" y1="284" x2="458" y2="284" stroke="#222" stroke-width="1.2"/>
  <path d="M457.5,281 L463,284 L457.5,287 Z" fill="#222"/>
  <!-- machine -->
  <path d="M501,262.7 L514.6,252.7 L553.5,253.2 Q557,253.5 557.6,257 L560.4,279.5 L560.4,310 Q560.4,313.3 556.6,313.3 L515.4,314.9 L501,300 Z" fill="#48494b"/>
  <line x1="514.6" y1="281.1" x2="560.4" y2="281.1" stroke="#38393b" stroke-width="0.9"/>
  <path d="M521.8,255.9 L552.3,255.9 L553.1,276.3 L524.2,276.3 Z" fill="#d9eaf2"/>
  <path d="M536,255.9 L552.3,255.9 L552.8,268 Z" fill="#e8f3f8"/>
  <path d="M470,266.7 L512.2,266.7 L514.8,269 L514.8,315.7 L471.5,315.7 L468,312.3 L468,268.7 Q468,266.7 470,266.7 Z" fill="#c8cbcc"/>
  <path d="M470,266.7 L512.2,266.7 L514.8,269 L514.8,276 L472.5,276 L468.2,270 Q468.5,266.7 470,266.7 Z" fill="#dedfe0"/>
  <path d="M468,270 L472.5,276 L472.5,313 L471.5,315.7 L468,312.3 Z" fill="#b5b8ba"/>
  <path d="M479.3,293.2 L520.2,293.2 L520.2,310.8 L480.5,310.8 L479.3,309.5 Z" fill="#434446"/>
  <path d="M487.3,293.2 L506.6,293.2 L506.6,301.5 Q506.6,302.8 505.3,302.8 L488.6,302.8 Q487.3,302.8 487.3,301.5 Z" fill="#38393b"/>
  <line x1="488" y1="302.3" x2="506" y2="302.3" stroke="#5a5b5d" stroke-width="0.6"/>
  <line x1="566.4" y1="283" x2="578" y2="283" stroke="#222" stroke-width="1.2"/>
  <path d="M577.5,280 L583,283 L577.5,286 Z" fill="#222"/>
  <!-- gene boxes -->
  <g fill="none" stroke-width="1.1">
    <g stroke="#5a5a5a"><rect x="626.1" y="253.4" width="11.1" height="4"/><rect x="650.4" y="253.4" width="11.6" height="4"/><rect x="594" y="260.4" width="11.9" height="4"/><rect x="618.8" y="260.4" width="11.9" height="4"/></g>
    <g stroke="#e8602a"><rect x="602" y="267.7" width="11.4" height="4"/><rect x="626.4" y="267.7" width="11.9" height="4"/><rect x="620.2" y="275.2" width="11.6" height="4"/><rect x="645" y="275.2" width="11.6" height="4"/></g>
    <g stroke="#b0b0b0"><rect x="589.1" y="282.3" width="11.4" height="4"/><rect x="613.4" y="282.3" width="11.4" height="4"/><rect x="596.7" y="289.3" width="11.9" height="4"/><rect x="621.5" y="289.3" width="11.4" height="4"/><rect x="603.4" y="313.6" width="11.4" height="4"/><rect x="628.3" y="313.6" width="10.8" height="4"/></g>
    <g stroke="#f5962a"><rect x="627.5" y="299.5" width="11.3" height="4"/><rect x="651.2" y="299.5" width="11.6" height="4"/><rect x="595.3" y="306.3" width="11.4" height="4"/><rect x="620.2" y="306.3" width="11.3" height="4"/></g>
  </g>
  <g fill="none" stroke-width="0.8" stroke-dasharray="0.8,0.8">
    <g stroke="#5a5a5a"><line x1="637.2" y1="255.4" x2="650.4" y2="255.4"/><line x1="605.9" y1="262.4" x2="618.8" y2="262.4"/></g>
    <g stroke="#e8602a"><line x1="613.4" y1="269.7" x2="626.4" y2="269.7"/><line x1="631.8" y1="277.2" x2="645" y2="277.2"/></g>
    <g stroke="#b0b0b0"><line x1="600.5" y1="284.3" x2="613.4" y2="284.3"/><line x1="608.6" y1="291.3" x2="621.5" y2="291.3"/><line x1="614.8" y1="315.6" x2="628.3" y2="315.6"/></g>
    <g stroke="#f5962a"><line x1="638.8" y1="301.5" x2="651.2" y2="301.5"/><line x1="606.7" y1="308.3" x2="620.2" y2="308.3"/></g>
  </g>
  <line x1="514.9" y1="338.8" x2="514.9" y2="353" stroke="#222" stroke-width="1.1"/>
  <path d="M512.2,352.5 L514.9,358.1 L517.6,352.5 Z" fill="#222"/>
</g>

<!-- PCA -->
<g id="pca">
  <rect x="430.7" y="369.5" width="170.2" height="179.5" fill="#fff" stroke="#333" stroke-width="0.9"/>
  <g stroke="#333" stroke-width="0.7">
    <line x1="427.8" y1="410.1" x2="430.7" y2="410.1"/><line x1="427.8" y1="466.8" x2="430.7" y2="466.8"/><line x1="427.8" y1="521.5" x2="430.7" y2="521.5"/>
    <line x1="439.1" y1="549" x2="439.1" y2="551.8"/><line x1="492.8" y1="549" x2="492.8" y2="551.8"/><line x1="547.2" y1="549" x2="547.2" y2="551.8"/><line x1="600.2" y1="549" x2="600.2" y2="551.8"/>
  </g>
  <g font-size="6.4" fill="#555">
    <text x="426.5" y="412.2" text-anchor="end">1</text><text x="426.5" y="468.9" text-anchor="end">0</text><text x="426.5" y="523.6" text-anchor="end">−1</text>
    <text x="439.1" y="556.5" text-anchor="middle">−2</text><text x="492.8" y="556.5" text-anchor="middle">0</text><text x="547.2" y="556.5" text-anchor="middle">2</text><text x="600.2" y="556.5" text-anchor="middle">4</text>
  </g>
  <text transform="translate(418,452.3) rotate(-90)" font-size="10" fill="#222" text-anchor="middle">Dimension 2</text>
  <text x="519" y="568.2" font-size="10" fill="#222" text-anchor="middle">Dimension 1</text>
  <!-- ellipses -->
  <g fill="none" stroke-width="1.2">
    <ellipse cx="503" cy="425" rx="55" ry="15.2" transform="rotate(-55.3 503 425)" stroke="#555"/>
    <ellipse cx="499.8" cy="420.5" rx="48.4" ry="9.5" transform="rotate(-63.8 499.8 420.5)" stroke="#f0a050"/>
    <ellipse cx="516.7" cy="497.8" rx="85.6" ry="16.5" transform="rotate(26.2 516.7 497.8)" stroke="#222"/>
    <ellipse cx="496" cy="494.7" rx="67.1" ry="13.5" transform="rotate(30 496 494.7)" stroke="#f07a22"/>
    <circle cx="469.4" cy="478.2" r="12.5" stroke="#999" stroke-width="1"/>
    <ellipse cx="470.7" cy="478.2" rx="8" ry="12.5" stroke="#f5c8a8" stroke-width="1"/>
  </g>
  <!-- points MICE+3h -->
  <g fill="#5f5f5f">
    <circle cx="517.3" cy="393.1" r="2.6"/><circle cx="514.1" cy="407.9" r="2.6"/><circle cx="523" cy="408.9" r="2.6"/><circle cx="516.9" cy="416.8" r="2.6"/><circle cx="500.2" cy="419.9" r="2.6"/><circle cx="497.8" cy="425.4" r="2.6"/><circle cx="501.2" cy="434.9" r="2.6"/><circle cx="486" cy="432.6" r="2.6"/><circle cx="495.9" cy="444.5" r="2.6"/><circle cx="485" cy="445.9" r="2.6"/><circle cx="481.2" cy="448.3" r="2.6"/><circle cx="502" cy="410.8" r="2.6"/>
  </g>
  <g fill="#f5962a">
    <path d="M509.4,398.1 l3.2,-5.6 l3.2,5.6 z"/><path d="M509.9,401.9 l3.2,-5.6 l3.2,5.6 z"/><path d="M498.0,414.8 l3.2,-5.6 l3.2,5.6 z"/><path d="M502.7,413.3 l3.2,-5.6 l3.2,5.6 z"/><path d="M485.6,422.7 l3.2,-5.6 l3.2,5.6 z"/><path d="M493.2,428.1 l3.2,-5.6 l3.2,5.6 z"/><path d="M483.7,435.1 l3.2,-5.6 l3.2,5.6 z"/><path d="M492.3,440.8 l3.2,-5.6 l3.2,5.6 z"/><path d="M496.1,441.7 l3.2,-5.6 l3.2,5.6 z"/><path d="M479.0,463.5 l3.2,-5.6 l3.2,5.6 z"/>
  </g>
  <!-- REST cluster -->
  <g fill="#a0a0a0"><circle cx="466.5" cy="473" r="2.4"/><circle cx="467" cy="477" r="2.4"/><circle cx="466" cy="481" r="2.4"/><circle cx="468.5" cy="484" r="2.4"/><circle cx="489.1" cy="481.5" r="2.4"/></g>
  <g fill="#f8c8a8"><path d="M468.4,479.6 l3.2,-5.6 l3.2,5.6 z"/><path d="M470.4,484.6 l3.2,-5.6 l3.2,5.6 z"/><path d="M480.7,492.2 l3.2,-5.6 l3.2,5.6 z"/></g>
  <g fill="#111">
    <circle cx="476.6" cy="477" r="2.6"/><circle cx="494.1" cy="478.2" r="2.6"/><circle cx="475.3" cy="491.4" r="2.6"/><circle cx="498.3" cy="494" r="2.6"/><circle cx="518.6" cy="479.8" r="2.6"/><circle cx="524.3" cy="500.4" r="2.6"/><circle cx="536.7" cy="505.8" r="2.6"/><circle cx="536.2" cy="507.6" r="2.6"/><circle cx="544.7" cy="515" r="2.6"/><circle cx="546.2" cy="519" r="2.6"/><circle cx="538.5" cy="520.2" r="2.6"/>
  </g>
  <g fill="#f07a22">
    <path d="M471.5,485.6 l3.2,-5.6 l3.2,5.6 z"/><path d="M478.0,489.6 l3.2,-5.6 l3.2,5.6 z"/><path d="M490.8,504.9 l3.2,-5.6 l3.2,5.6 z"/><path d="M500.8,501.9 l3.2,-5.6 l3.2,5.6 z"/><path d="M505.7,504.2 l3.2,-5.6 l3.2,5.6 z"/><path d="M511.7,506.2 l3.2,-5.6 l3.2,5.6 z"/><path d="M523.6,488.8 l3.2,-5.6 l3.2,5.6 z"/><path d="M536.0,513.1 l3.2,-5.6 l3.2,5.6 z"/><path d="M529.3,526.0 l3.2,-5.6 l3.2,5.6 z"/>
  </g>
  <line x1="447.8" y1="447.2" x2="460.7" y2="465" stroke="#222" stroke-width="0.9"/>
  <text x="433.6" y="444.5" font-size="11.5" fill="#222" textLength="24.2" lengthAdjust="spacingAndGlyphs">REST</text>
  <text x="535.3" y="415" font-size="11.5" fill="#222">+ 3 h</text>
  <text x="504.5" y="541.6" font-size="11.5" fill="#222">+ 24 h</text>
  <!-- legend -->
  <text x="607.6" y="385.7" font-size="8" font-weight="bold" fill="#222">GROUP</text>
  <circle cx="611" cy="399" r="3.8" fill="#a0a0a0"/><circle cx="611" cy="412.2" r="3.8" fill="#606060"/><circle cx="611" cy="425.4" r="3.8" fill="#000"/>
  <path d="M606.5,446.6 L611.3,438.6 L616.1,446.6 Z" fill="#f8c8a8"/>
  <path d="M606.5,460 L611.3,452.5 L616.1,460 Z" fill="#f5a040"/>
  <path d="M606.5,473.9 L611.3,466 L616.1,473.9 Z" fill="#f07820"/>
  <g font-size="8.1" fill="#222"><text x="618.6" y="402.1">MICE REST</text><text x="618.6" y="415.3">MICE + 3 h</text><text x="618.6" y="428.5">MICE + 24 h</text><text x="617.6" y="446.8">SIE REST</text><text x="617.6" y="460.2">SIE + 3 h</text><text x="617.6" y="474">SIE + 24 h</text></g>
</g>

<!-- ============ PANEL E ============ -->
<text class="pl" x="6.8" y="567.1">E</text>
<text x="171.9" y="572.6" font-size="11.5" fill="#222" text-anchor="middle">13295 genes detected</text>
<line x1="38.1" y1="578.8" x2="293.6" y2="578.8" stroke="#222" stroke-width="1"/>
<text x="98" y="599" font-size="11.2" fill="#222" text-anchor="middle">DOWN</text>
<text x="232.4" y="600.2" font-size="10.5" fill="#222" text-anchor="middle">UP</text>
<text transform="translate(16.3,650) rotate(-90)" font-size="10.4" fill="#333" text-anchor="middle">3 h (DEGs)</text>
<text transform="translate(16.3,785.4) rotate(-90)" font-size="10.4" fill="#333" text-anchor="middle">24 h (DEGs)</text>
<defs>
  <clipPath id="c1"><circle cx="81" cy="651.5" r="33.5"/></clipPath>
  <clipPath id="c2"><circle cx="224" cy="651" r="38"/></clipPath>
  <clipPath id="c3"><circle cx="89.6" cy="779.9" r="62"/></clipPath>
  <clipPath id="c4"><circle cx="240.9" cy="777" r="61.7"/></clipPath>
</defs>
<g id="venns">
  <circle cx="81" cy="651.5" r="33.5" fill="#b3b3b3"/>
  <circle cx="111.2" cy="651.5" r="32.1" fill="#f07a22"/>
  <circle cx="111.2" cy="651.5" r="32.1" fill="#fbd9be" clip-path="url(#c1)"/>
  <circle cx="224" cy="651" r="38" fill="#b3b3b3"/>
  <circle cx="247.4" cy="651" r="36.6" fill="#f07a22"/>
  <circle cx="247.4" cy="651" r="36.6" fill="#fbd9be" clip-path="url(#c2)"/>
  <circle cx="89.6" cy="779.9" r="62" fill="#b3b3b3"/>
  <circle cx="122.2" cy="779.5" r="44.6" fill="#f07a22"/>
  <circle cx="122.2" cy="779.5" r="44.6" fill="#fbd9be" clip-path="url(#c3)"/>
  <circle cx="240.9" cy="777" r="61.7" fill="#b3b3b3"/>
  <circle cx="264.6" cy="776.2" r="48.6" fill="#f07a22"/>
  <circle cx="264.6" cy="776.2" r="48.6" fill="#fbd9be" clip-path="url(#c4)"/>
  <g font-size="12" font-style="italic" fill="#1a1a1a" text-anchor="middle">
    <text x="63.8" y="655.2">319</text><text x="98.3" y="655.2">220</text><text x="129.6" y="655.2">266</text>
    <text x="198.5" y="655">388</text><text x="235.5" y="655">535</text><text x="298.5" y="644.2">317</text>
    <text x="53.9" y="780.2">1510</text><text x="117.4" y="780.2">1142</text><text x="170" y="742">251</text>
    <text x="198.9" y="780.2">1333</text><text x="262.5" y="780.2">1647</text><text x="326.5" y="765.2">190</text>
  </g>
  <g stroke="#1a1a1a" stroke-width="1.1">
    <line x1="283.5" y1="655.4" x2="293.5" y2="647.9"/>
    <line x1="157.6" y1="752.5" x2="167.6" y2="745.2"/>
    <line x1="312.7" y1="775.7" x2="322.4" y2="768.8"/>
  </g>
  <g fill="none" stroke="#222" stroke-width="0.8" stroke-dasharray="2.2,1.6">
    <rect x="221.2" y="642" width="28.1" height="17.6"/>
    <line x1="249.3" y1="642" x2="365.1" y2="580.6"/>
    <line x1="249.3" y1="659.6" x2="365.1" y2="716.2"/>
    <rect x="247" y="766.5" width="30.7" height="18.4"/>
    <line x1="277.7" y1="766.5" x2="365.1" y2="736.2"/>
    <line x1="277.7" y1="784.9" x2="365.1" y2="872"/>
  </g>
</g>
<!-- GO box 1 -->
<g id="go1">
  <rect x="365.1" y="580.6" width="319" height="135.6" fill="#fff" stroke="#444" stroke-width="1"/>
  <g fill="#fcdcc0" stroke="#222" stroke-width="1">
    <rect x="367.7" y="596.7" width="85.3" height="16.8"/>
    <rect x="367.7" y="614.7" width="30.8" height="16.3"/>
    <rect x="367.7" y="632.2" width="15" height="17.1"/>
    <rect x="367.7" y="650.2" width="13.8" height="17.1"/>
    <rect x="367.7" y="668.4" width="12.6" height="16.4"/>
  </g>
  <g stroke="#111" stroke-width="1.6" fill="none">
    <line x1="367.7" y1="593.7" x2="367.7" y2="688.8"/>
    <line x1="367" y1="688.8" x2="463.5" y2="688.8"/>
    <line x1="367.7" y1="688.8" x2="367.7" y2="693"/><line x1="399.2" y1="688.8" x2="399.2" y2="693"/><line x1="431.2" y1="688.8" x2="431.2" y2="693"/><line x1="462.8" y1="688.8" x2="462.8" y2="693"/>
  </g>
  <g class="bt" font-size="7.2" text-anchor="middle"><text x="367.7" y="700.2">0</text><text x="399.2" y="700.2">5</text><text x="431.2" y="700.2">10</text><text x="462.8" y="700.2">15</text></g>
  <text class="bt" font-size="7.6" x="415.4" y="711.8" text-anchor="middle">Enrichment</text>
  <g class="bt" font-size="7.27">
    <text x="455.1" y="607.8">1-phosphatidylinositol-3-kinase regulator activity (GO:0046935)</text>
    <text x="400.9" y="625.9">promoter-specific chromatin binding (GO:1990841)</text>
    <text x="384" y="643.3">DNA-binding transcription activator activity, RNA polymerase II-specific (GO:0001228)</text>
    <text x="383.4" y="661.1">molecular transducer activity (GO:0060089)</text>
    <text x="383.4" y="679.1">signaling receptor binding (GO:0005102)</text>
  </g>
</g>
<!-- GO box 2 -->
<g id="go2">
  <rect x="365.1" y="736.2" width="315.8" height="135.5" fill="#fff" stroke="#444" stroke-width="1"/>
  <g fill="#fcdcc0" stroke="#222" stroke-width="1">
    <rect x="372.1" y="751.4" width="36.9" height="16.8"/>
    <rect x="372.1" y="769.4" width="24.6" height="16.8"/>
    <rect x="372.1" y="787.6" width="22.5" height="16.8"/>
    <rect x="372.1" y="805.6" width="22.5" height="16.8"/>
    <rect x="372.1" y="823.8" width="22.5" height="16.8"/>
  </g>
  <g stroke="#111" stroke-width="1.6" fill="none">
    <line x1="372.1" y1="747.9" x2="372.1" y2="844.1"/>
    <line x1="371.4" y1="844.1" x2="468.6" y2="844.1"/>
    <line x1="372.1" y1="844.1" x2="372.1" y2="848.3"/><line x1="396.2" y1="844.1" x2="396.2" y2="848.3"/><line x1="420.3" y1="844.1" x2="420.3" y2="848.3"/><line x1="444.6" y1="844.1" x2="444.6" y2="848.3"/><line x1="468.6" y1="844.1" x2="468.6" y2="848.3"/>
  </g>
  <g class="bt" font-size="7.2" text-anchor="middle"><text x="372.1" y="856">0.0</text><text x="396.2" y="856">2.5</text><text x="420.3" y="856">5.0</text><text x="444.6" y="856">7.5</text><text x="468.6" y="856">10.0</text></g>
  <text class="bt" font-size="7.6" x="420.3" y="867.6" text-anchor="middle">Enrichment</text>
  <g class="bt" font-size="7.27">
    <text x="412.6" y="762.5">snoRNA binding (GO:0030515)</text>
    <text x="400.2" y="780.7">ribosome binding (GO:0043022)</text>
    <text x="398.1" y="798.7">translation factor activity, RNA binding (GO:0008135)</text>
    <text x="398.1" y="816.7">ribonucleoprotein complex binding (GO:0043021)</text>
    <text x="398.1" y="834.9">unfolded protein binding (GO:0051082)</text>
  </g>
</g>
</svg>
</body></html>
